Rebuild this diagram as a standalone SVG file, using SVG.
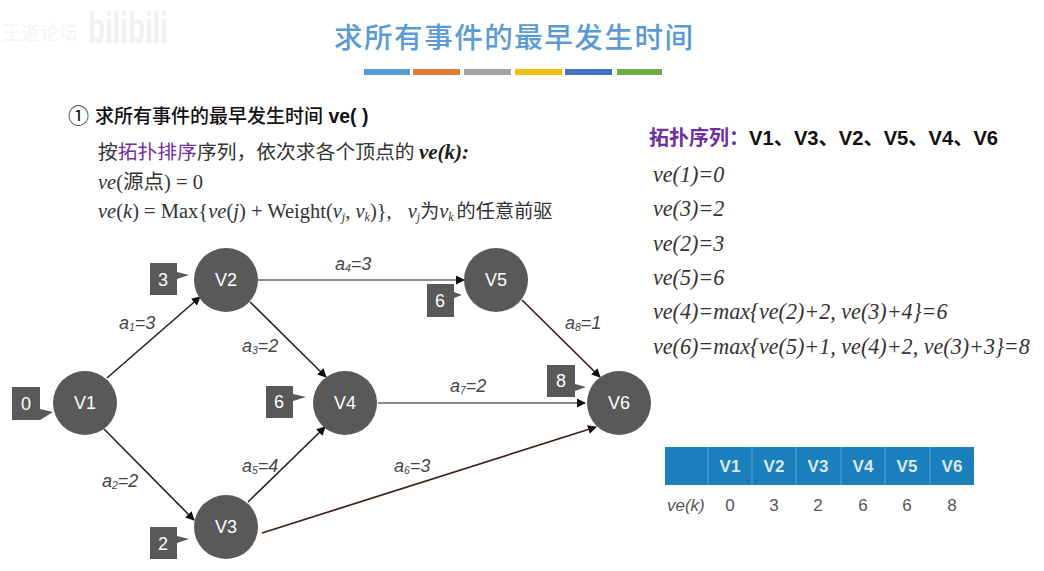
<svg xmlns="http://www.w3.org/2000/svg" width="1044" height="571" viewBox="0 0 1044 571">
<style>
text{font-family:"Liberation Sans","Noto Sans CJK SC",sans-serif}
.cn{font-family:"Noto Sans CJK SC",sans-serif}
.serif{font-family:"Liberation Serif","Noto Sans CJK SC",serif;fill:#333;font-size:20.5px}
.i{font-style:italic}
.b{font-weight:bold}
.nd{fill:#595959}
.nt{fill:#fff;font-size:18px;text-anchor:middle}
.ct{fill:#fff;font-size:18px;text-anchor:middle}
.lb{font-style:italic;font-size:18px;fill:#444}
.lb .sub{font-size:10.5px}
.sub{font-size:12px}
.edge{fill:none;stroke:#222;stroke-width:1.6;marker-end:url(#ah)}
.edge2{fill:none;stroke:#666;stroke-width:1.6;marker-end:url(#ah)}
.edge3{fill:none;stroke:#3a2016;stroke-width:1.7;marker-end:url(#ah)}
.ve{font-family:"Liberation Serif",serif;font-style:italic;font-size:22.1px;fill:#333}
.th{fill:#d9e8f2;font-size:17px;font-weight:bold;text-anchor:middle}
.td{fill:#555;font-size:17px;text-anchor:middle}
.div{stroke:#5aa6d2;stroke-width:1}
.pu{fill:#7030a0}
</style>
<defs>
<marker id="ah" markerUnits="userSpaceOnUse" markerWidth="10" markerHeight="10" refX="8" refY="4.5" orient="auto"><path d="M0 0L9 4.5L0 9Z" fill="#111"/></marker>
</defs>
<rect width="1044" height="571" fill="#fff"/>
<g id="watermark" fill="#f0f0f0"><text x="2" y="40" class="cn" font-size="19" fill="#f4f4f4">王道论坛</text><text x="88" y="43" font-size="44" font-weight="bold" textLength="80" lengthAdjust="spacingAndGlyphs">bilibili</text></g>
<g id="header">
<text x="334" y="48" class="cn" font-size="28.5" font-weight="500" fill="#5b9bd5" textLength="359">求所有事件的最早发生时间</text>
<rect x="364" y="69" width="46" height="6" fill="#5b9bd5"/>
<rect x="413" y="69" width="47" height="6" fill="#e07b39"/>
<rect x="464" y="69" width="47" height="6" fill="#a5a5a5"/>
<rect x="515" y="69" width="47" height="6" fill="#f2bd12"/>
<rect x="565" y="69" width="47" height="6" fill="#4472c4"/>
<rect x="617" y="69" width="45" height="6" fill="#70ad47"/>
</g>
<g id="description">
<text x="68" y="123" class="cn" font-size="21" fill="#111">①</text>
<text x="95" y="123" class="cn" font-size="19" font-weight="500" fill="#111">求所有事件的最早发生时间<tspan font-family="Liberation Sans" font-weight="bold" font-size="19.5"> ve( )</tspan></text>
<text x="98" y="159" class="serif"><tspan class="cn" font-size="19.8">按<tspan class="pu">拓扑排序</tspan>序列，依次求各个顶点的 </tspan><tspan class="b i" fill="#222" font-size="21">ve(k):</tspan></text>
<text x="98" y="189" class="serif"><tspan class="i">ve</tspan>(<tspan class="cn">源点</tspan>) = 0</text>
<text x="98" y="218" class="serif"><tspan class="i">ve</tspan>(<tspan class="i">k</tspan>) = Max{<tspan class="i">ve</tspan>(<tspan class="i">j</tspan>) + Weight(<tspan class="i">v<tspan class="sub" dy="3">j</tspan><tspan dy="-3">,</tspan> v<tspan class="sub" dy="3">k</tspan></tspan><tspan dy="-3">)},</tspan><tspan dx="16" class="i">v<tspan class="sub" dy="3">j</tspan></tspan><tspan class="cn" dy="-3" font-size="19">为</tspan><tspan class="i">v<tspan class="sub" dy="3">k</tspan></tspan><tspan class="cn" dy="-3" dx="3" font-size="19.2">的任意前驱</tspan></text>
</g>
<g id="sequence">
<text x="649" y="145" font-size="20.2" font-weight="bold" fill="#111"><tspan class="cn pu" font-size="20">拓扑序列：</tspan>V1、V3、V2、V5、V4、V6</text>
<text x="653" y="182" class="ve">ve(1)=0</text>
<text x="653" y="216" class="ve">ve(3)=2</text>
<text x="653" y="251" class="ve">ve(2)=3</text>
<text x="653" y="285" class="ve">ve(5)=6</text>
<text x="653" y="319" class="ve">ve(4)=max{ve(2)+2, ve(3)+4}=6</text>
<text x="653" y="354" class="ve">ve(6)=max{ve(5)+1, ve(4)+2, ve(3)+3}=8</text>
</g>
<g id="connectors">
<path class="edge" d="M107 378L200 297"/>
<path class="edge" d="M104 429L194 520"/>
<path class="edge" d="M250 302L326 377"/>
<path class="edge" d="M248 502L325 427"/>
<path class="edge2" d="M258 280L464 280"/>
<path class="edge3" d="M262 533L596 427"/>
<path class="edge2" d="M378 403L585 403"/>
<path class="edge3" d="M522 300L600 377"/>
</g>
<g id="connector-labels">
<text x="119" y="329" class="lb">a<tspan class="sub" dy="2">1</tspan><tspan dy="-2">=3</tspan></text>
<text x="102" y="487" class="lb">a<tspan class="sub" dy="2">2</tspan><tspan dy="-2">=2</tspan></text>
<text x="242" y="352" class="lb">a<tspan class="sub" dy="2">3</tspan><tspan dy="-2">=2</tspan></text>
<text x="335" y="270" class="lb">a<tspan class="sub" dy="2">4</tspan><tspan dy="-2">=3</tspan></text>
<text x="242" y="472" class="lb">a<tspan class="sub" dy="2">5</tspan><tspan dy="-2">=4</tspan></text>
<text x="394" y="472" class="lb">a<tspan class="sub" dy="2">6</tspan><tspan dy="-2">=3</tspan></text>
<text x="450" y="392" class="lb">a<tspan class="sub" dy="2">7</tspan><tspan dy="-2">=2</tspan></text>
<text x="565" y="329" class="lb">a<tspan class="sub" dy="2">8</tspan><tspan dy="-2">=1</tspan></text>
</g>
<g id="node-v1"><circle class="nd" cx="85" cy="403" r="32"/><text class="nt" x="85" y="409">V1</text></g>
<g id="node-v2"><circle class="nd" cx="226" cy="280" r="32"/><text class="nt" x="226" y="286">V2</text></g>
<g id="node-v3"><circle class="nd" cx="226" cy="527" r="32"/><text class="nt" x="226" y="533">V3</text></g>
<g id="node-v4"><circle class="nd" cx="345" cy="403" r="32"/><text class="nt" x="345" y="409">V4</text></g>
<g id="node-v5"><circle class="nd" cx="496" cy="280" r="32"/><text class="nt" x="496" y="286">V5</text></g>
<g id="node-v6"><circle class="nd" cx="619" cy="403" r="32"/><text class="nt" x="619" y="409">V6</text></g>
<g id="callout-v1"><path class="nd" d="M12 387H40V409L53 412L40 420H12Z"/><text class="ct" x="26" y="410">0</text></g>
<g id="callout-v2"><path class="nd" d="M150 263H177V272L189 275L177 279V295H150Z"/><text class="ct" x="163" y="286">3</text></g>
<g id="callout-v3"><path class="nd" d="M150 527H177V536L189 539L177 543V559H150Z"/><text class="ct" x="163" y="550">2</text></g>
<g id="callout-v4"><path class="nd" d="M266 386H293V394L306 397L293 401V418H266Z"/><text class="ct" x="279" y="408">6</text></g>
<g id="callout-v5"><path class="nd" d="M427 284H454V292L462 295L454 298V317H427Z"/><text class="ct" x="440" y="307">6</text></g>
<g id="callout-v6"><path class="nd" d="M547 365H575V384L586 387L575 391V397H547Z"/><text class="ct" x="561" y="387">8</text></g>
<g id="table">
<rect x="665" y="447" width="309" height="38" fill="#1a7fba"/>
<path class="div" d="M708 447V485M752 447V485M796 447V485M841 447V485M885 447V485M930 447V485"/>
<text class="th" x="730" y="472">V1</text>
<text class="th" x="774" y="472">V2</text>
<text class="th" x="818" y="472">V3</text>
<text class="th" x="863" y="472">V4</text>
<text class="th" x="907" y="472">V5</text>
<text class="th" x="952" y="472">V6</text>
<text x="667" y="511" font-size="17" font-style="italic" fill="#555">ve(k)</text>
<text class="td" x="730" y="511">0</text>
<text class="td" x="774" y="511">3</text>
<text class="td" x="818" y="511">2</text>
<text class="td" x="863" y="511">6</text>
<text class="td" x="907" y="511">6</text>
<text class="td" x="952" y="511">8</text>
</g>
</svg>
